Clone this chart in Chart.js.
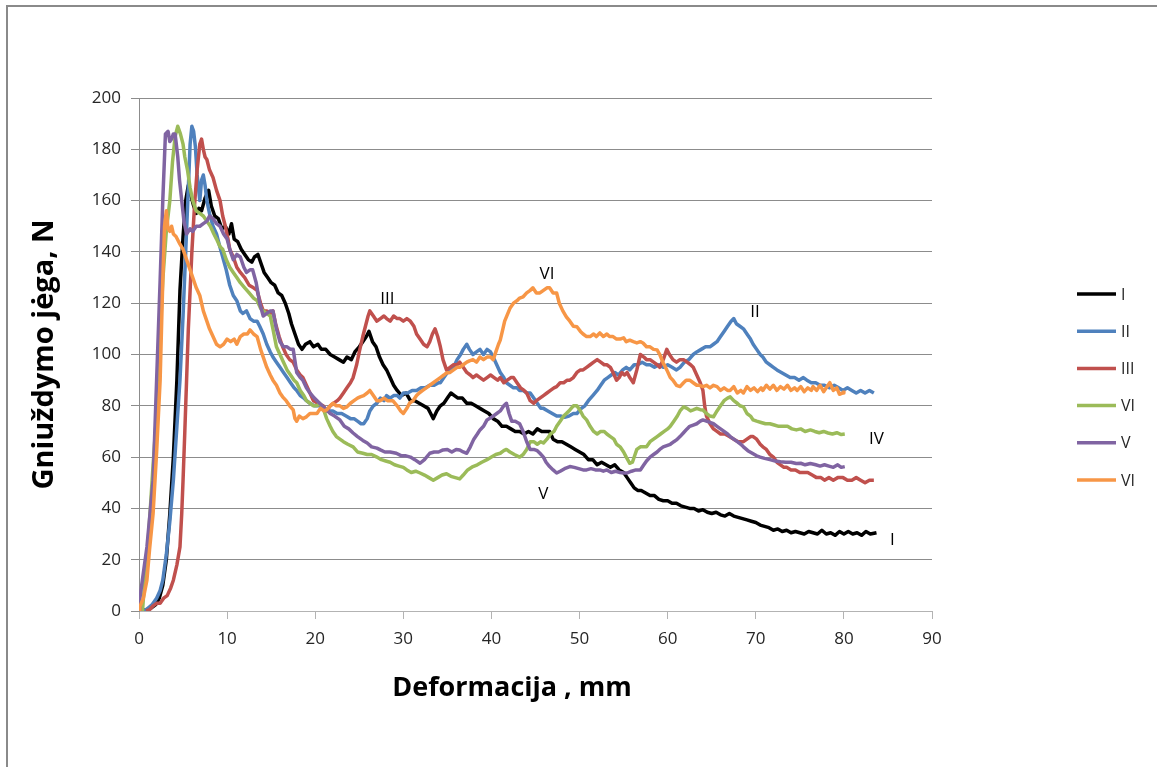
<!DOCTYPE html>
<html>
<head>
<meta charset="utf-8">
<title>Gniuždymo jėga</title>
<script src="https://cdn.jsdelivr.net/npm/chart.js@4.4.1/dist/chart.umd.min.js"></script>
<style>
  html, body { margin: 0; padding: 0; background: #fff; }
  #wrap { position: relative; width: 1157px; height: 767px; overflow: hidden; }
  #frame { position: absolute; left: 6px; top: 5px; width: 1200px; height: 800px;
           border-left: 2px solid #8a8a8a; border-top: 2px solid #8a8a8a; }
  canvas { position: absolute; left: 0; top: 0; }
</style>
</head>
<body>
<div id="wrap">
  <div id="frame"></div>
  <canvas id="chart" width="1157" height="767"></canvas>
</div>
<script>
// deformation (mm) / force (N) pairs
const seriesI = [
  [0.4,0],[0.9,0.6],[1.4,1.2],[1.9,2.5],[2.3,5],[2.7,10],[3.1,20],[3.5,38],[3.9,60],[4.3,90],[4.65,125],[5,146],[5.3,160],[5.6,166],[5.9,162],[6.2,158],[6.5,155],[6.8,157],[7.1,156],[7.5,161],[7.9,164],[8.2,158],[8.6,154],[9,153],[9.4,149],[9.8,150],[10.2,147],[10.5,151],[10.8,145],[11.2,144],[11.6,141],[12,139],[12.4,137],[12.8,136],[13.1,138],[13.5,139],[13.9,135],[14.2,132],[14.6,130],[15,128],[15.4,127],[15.8,124],[16.2,123],[16.6,120],[17,116],[17.3,112],[17.7,108],[18.1,104],[18.5,102],[18.9,104],[19.4,105],[19.8,103],[20.3,104],[20.7,102],[21.2,102],[21.7,100],[22.2,99],[22.7,98],[23.2,97],[23.6,99],[24.1,98],[24.5,101],[25,103],[25.4,105],[25.8,107],[26.1,109],[26.5,105],[26.9,103],[27.3,99],[27.7,96],[28.1,94],[28.5,91],[28.9,88],[29.3,86],[29.8,84],[30.3,85],[30.8,82],[31.3,82],[31.8,81],[32.3,80],[32.8,79],[33.1,77],[33.4,75],[33.8,78],[34.2,80],[34.6,81],[35,83],[35.4,85],[35.8,84],[36.2,83],[36.7,83],[37.2,81],[37.7,81],[38.2,80],[38.7,79],[39.2,78],[39.7,77],[40.2,75],[40.7,74],[41.2,72],[41.7,72],[42.2,71],[42.7,70],[43.2,70],[43.7,69],[44.2,70],[44.7,69],[45.2,71],[45.7,70],[46.2,70],[46.6,70],[47,67],[47.5,66],[48,66],[48.5,65],[49,64],[49.5,63],[50,62],[50.5,61],[51,59],[51.5,59],[52,57],[52.5,58],[53,57],[53.5,56],[54,57],[54.5,55],[55,54],[55.4,52],[55.8,50],[56.2,48],[56.6,47],[57,47],[57.5,46],[58,45],[58.5,45],[59,43.5],[59.5,43],[60,43],[60.5,42],[61,42],[61.5,41],[62,40.5],[62.5,40],[63,40],[63.5,39],[64,39.5],[64.5,38.5],[65,38],[65.5,38.5],[66,37.5],[66.5,37],[67,38],[67.5,37],[68,36.5],[68.5,36],[69,35.5],[69.5,35],[70,34.5],[70.5,33.5],[71,33],[71.5,32.5],[72,31.5],[72.5,32],[73,31],[73.5,31.5],[74,30.5],[74.5,31],[75,30.5],[75.5,30],[76,31],[76.5,30.5],[77,30],[77.5,31.5],[78,30],[78.5,30.5],[79,29.5],[79.5,31],[80,30],[80.5,31],[81,30],[81.5,30.5],[82,29.5],[82.5,31],[83,30],[83.7,30.5]
];
const seriesII = [
  [0.5,0],[1,1],[1.5,2.5],[2,5],[2.4,8],[2.7,12],[3.1,22],[3.5,35],[3.9,51],[4.3,72],[4.65,90],[5,115],[5.3,140],[5.6,165],[5.8,182],[6,189],[6.2,187],[6.4,181],[6.6,170],[6.9,160],[7.1,168],[7.3,170],[7.5,166],[7.7,160],[8,155],[8.4,150],[8.8,147],[9.1,143],[9.5,138],[9.9,133],[10.3,127],[10.7,123],[11.1,121],[11.5,117],[11.8,116],[12.2,117],[12.6,114],[13,113],[13.4,113],[13.7,111],[14.1,108],[14.5,104],[14.9,101],[15.2,99],[15.6,97],[16,95],[16.4,93],[16.8,91],[17.2,89],[17.6,87],[17.9,86],[18.3,84],[18.7,83],[19,82],[19.4,81],[19.9,80],[20.5,80],[21,79],[21.5,78],[22,78],[22.5,77],[23,77],[23.5,76],[24,75],[24.4,75],[24.8,74],[25.2,73],[25.5,73],[25.9,75],[26.2,78],[26.6,80],[27,81],[27.4,83],[27.8,82],[28.1,84],[28.5,83],[28.9,84],[29.3,84],[29.6,83],[30,85],[30.5,85],[31,86],[31.5,86],[32,87],[32.5,87],[33,88],[33.5,88],[34,89],[34.2,89],[34.6,91],[35,93],[35.4,94],[35.7,95],[36.1,98],[36.5,100],[36.8,102],[37.2,104],[37.5,102],[37.9,100],[38.3,101],[38.7,102],[39.1,100],[39.5,102],[39.9,101],[40.2,99],[40.6,96],[41,93],[41.4,91],[41.7,89],[42.1,88],[42.5,87],[42.9,87],[43.2,86],[43.6,86],[44,85],[44.4,85],[44.8,83],[45.2,81],[45.6,79],[45.9,79],[46.4,78],[46.9,77],[47.4,76],[47.9,76],[48.3,75.5],[48.8,76],[49.3,77],[49.7,77],[50.2,79],[50.6,80],[51,82],[51.5,84],[52,86],[52.4,88],[52.8,90],[53.2,91],[53.6,92],[54,93],[54.4,92],[54.9,94],[55.3,95],[55.7,94],[56.2,96],[56.6,96],[57.1,97],[57.6,96],[58,96],[58.5,95],[59,96],[59.5,95],[60,96],[60.5,95],[61,94],[61.4,95],[61.9,97],[62.4,98],[62.9,100],[63.3,101],[63.8,102],[64.3,103],[64.8,103],[65.2,104],[65.6,105],[66,107],[66.4,109],[66.8,111],[67.2,113],[67.5,114],[67.8,112],[68.2,111],[68.6,110],[69,108],[69.4,106],[69.7,104],[70.1,102],[70.5,100],[70.8,99],[71.2,97],[71.6,96],[72,95],[72.4,94],[72.9,93],[73.4,92],[73.9,91],[74.4,91],[74.9,90],[75.4,91],[75.8,90],[76.3,89],[76.8,89],[77.3,88],[77.8,88],[78.4,87],[78.9,88],[79.4,87],[79.9,86],[80.4,87],[80.9,86],[81.4,85],[81.9,86],[82.4,85],[82.9,86],[83.4,85]
];
const seriesIII = [
  [0.8,0],[1.2,0.5],[1.6,2],[2,3],[2.4,3],[2.8,5],[3.2,6],[3.6,9],[3.9,12],[4.3,18],[4.65,25],[4.85,38],[5,51],[5.2,70],[5.4,90],[5.6,110],[5.8,125],[6,140],[6.3,158],[6.6,172],[6.9,182],[7.1,184],[7.3,180],[7.5,177],[7.7,176],[8,172],[8.4,169],[8.8,164],[9.2,160],[9.5,154],[9.8,150],[10.1,145],[10.3,141],[10.7,138],[11.1,134],[11.5,132],[12,130],[12.5,127],[13,126],[13.4,125],[13.8,120],[14.1,117],[14.5,117],[14.9,116],[15.2,117],[15.5,112],[15.9,107],[16.3,103],[16.7,100],[17.1,98],[17.5,97],[17.9,94],[18.3,92],[18.6,91],[19,88],[19.4,85],[19.8,82],[20.3,81],[20.9,80],[21.3,78],[21.7,80],[22.1,81],[22.5,82],[22.8,83],[23.2,85],[23.6,87],[24,89],[24.3,91],[24.7,96],[25,101],[25.4,107],[25.7,111],[26,115],[26.2,117],[26.6,115],[27,113],[27.4,114],[27.8,115],[28.1,114],[28.5,113],[28.9,115],[29.3,114],[29.6,114],[30,113],[30.4,114],[30.8,113],[31.2,111],[31.5,108],[31.9,106],[32.3,104],[32.7,103],[33,105],[33.3,108],[33.6,110],[33.9,107],[34.2,103],[34.5,98],[34.9,94],[35.3,95],[35.7,96],[36.1,96],[36.4,97],[36.8,95],[37.2,93],[37.6,92],[37.9,91],[38.3,92],[38.7,91],[39.1,90],[39.5,91],[39.9,92],[40.3,91],[40.7,90],[41,91],[41.4,89],[41.8,90],[42.2,91],[42.5,91],[42.9,89],[43.3,87],[43.7,86],[44,85],[44.4,82],[44.8,81],[45.1,82],[45.5,83],[45.9,84],[46.3,85],[46.7,86],[47.1,87],[47.4,87.5],[47.8,89],[48.2,89],[48.6,90],[48.9,90],[49.3,91],[49.7,93],[50.1,94],[50.4,94],[50.8,95],[51.2,96],[51.6,97],[52,98],[52.4,97],[52.8,96],[53.1,96],[53.5,95],[53.8,93],[54.2,90],[54.5,91],[54.8,93],[55.1,92],[55.4,93],[55.7,91],[56.1,89],[56.5,94],[56.9,100],[57.3,99],[57.6,98],[58,98],[58.4,97],[58.8,96],[59.1,95],[59.5,98],[59.9,102],[60.2,100],[60.6,98],[61,97],[61.4,98],[61.8,98],[62.2,97],[62.6,96],[62.9,95],[63.3,92],[63.7,89],[64,86],[64.2,80],[64.4,76],[64.8,73],[65.2,71],[65.6,70],[66,69],[66.5,69],[67,68],[67.5,67],[68,66],[68.6,66],[69,67],[69.4,68],[69.7,68],[70.1,67],[70.5,65],[70.8,64],[71.2,63],[71.6,61],[72,60],[72.4,58],[72.8,57],[73.2,56],[73.5,56],[74,55],[74.5,55],[75,54],[75.4,54],[75.9,54],[76.4,53],[76.9,52],[77.4,52],[77.8,51],[78.3,52],[78.8,51],[79.3,52],[79.9,52],[80.4,51],[80.9,51],[81.4,52],[81.9,51],[82.4,50],[82.9,51],[83.4,51]
];
const seriesIV = [
  [0.4,0],[0.5,5],[0.9,20],[1.25,38],[1.6,57],[2,77],[2.3,100],[2.7,129],[3.1,148],[3.5,160],[3.8,175],[4.1,185],[4.4,189],[4.7,186],[5,182],[5.2,177],[5.5,172],[5.8,165],[6.1,160],[6.5,156],[6.9,155],[7.3,154],[7.7,152],[8.1,150],[8.5,147],[8.8,145],[9.2,142],[9.5,141],[9.9,137],[10.3,134],[10.7,132],[11.1,130],[11.5,128],[12,126],[12.5,124],[13,122],[13.4,121],[13.8,118],[14.1,117],[14.5,116],[14.9,115],[15.2,110],[15.6,103],[16,100],[16.4,97],[16.8,94],[17.2,92],[17.6,90],[17.9,89],[18.3,86],[18.7,84],[19,82],[19.4,81],[19.8,80],[20.2,80],[20.5,81],[20.9,79],[21.3,75],[21.7,72],[22,70],[22.4,68],[22.8,67],[23.2,66],[23.7,65],[24.3,64],[24.8,62],[25.4,61.5],[25.9,61],[26.4,61],[27,60],[27.5,59],[28,58.5],[28.5,58],[29,57],[29.5,56.5],[30,56],[30.4,55],[30.9,54],[31.4,54.5],[31.9,53.8],[32.4,53],[32.9,52],[33.4,51],[33.9,52],[34.4,53],[34.9,53.5],[35.4,52.5],[35.9,52],[36.4,51.5],[36.8,53],[37.3,55],[37.9,56.3],[38.4,57],[38.9,58],[39.5,59],[40,60],[40.5,61],[41,61.5],[41.4,62.5],[41.7,63],[42.1,62],[42.6,61],[43.2,60],[43.6,61],[44,63],[44.4,66],[44.8,66],[45.2,65],[45.6,66],[45.9,65.5],[46.3,67],[46.7,69],[47.1,70],[47.4,72],[47.8,74],[48.2,76],[48.5,77],[48.9,78.4],[49.3,80],[49.7,80],[50.1,78],[50.4,76],[50.8,74.5],[51.2,72],[51.6,70],[52,69],[52.4,70],[52.8,70],[53.1,69],[53.5,68],[53.9,67],[54.2,65],[54.6,64],[55,62],[55.3,60],[55.7,57.6],[56,58],[56.3,61],[56.5,63],[56.9,64],[57.2,64],[57.6,64],[58,66],[58.4,67],[58.8,68],[59.2,69],[59.6,70],[60,71],[60.3,72],[60.7,74],[61.1,76],[61.4,78],[61.8,79.6],[62.2,79],[62.6,78],[62.9,78.4],[63.3,79],[63.7,78.5],[64,78.4],[64.4,77],[64.8,76],[65.2,75.7],[65.6,78],[66,80],[66.4,82],[66.8,83],[67.1,83.5],[67.5,82],[67.9,81],[68.2,80],[68.6,79.6],[69,77],[69.4,76],[69.7,74.5],[70.1,74],[70.6,73.5],[71.1,73],[71.6,73],[72.1,72.5],[72.6,72],[73.1,72],[73.6,72],[74.1,71],[74.6,70.6],[75.1,71],[75.6,70],[76.2,70.6],[76.7,70],[77.2,69.5],[77.7,70],[78.2,69.4],[78.7,69],[79.2,69.5],[79.7,68.8],[80.1,69]
];
const seriesV = [
  [0.1,0],[0.1,5],[0.5,15],[0.9,25],[1.25,38],[1.6,51],[2,90],[2.4,129],[2.7,160],[3,186],[3.3,187],[3.5,183],[3.7,184],[3.9,186],[4.1,186],[4.4,177],[4.6,168],[4.85,160],[5.1,152],[5.4,147],[5.8,149],[6.1,148],[6.5,150],[6.9,150],[7.3,151],[7.7,152],[8,154],[8.4,153],[8.8,151],[9.2,150],[9.6,147],[10,145],[10.3,141],[10.7,137],[11.1,139],[11.5,138],[11.9,134],[12.2,132],[12.6,133],[12.9,133],[13.3,128],[13.7,120],[14.1,115],[14.5,116],[14.9,117],[15.2,117],[15.6,110],[16,105],[16.4,103],[16.8,103],[17.2,102],[17.5,102],[17.9,93],[18.3,91],[18.6,90],[19,87],[19.4,85],[19.9,83],[20.5,81],[21.1,79],[21.7,77],[22.2,76],[22.8,74.5],[23.3,72],[23.8,71],[24.3,69.4],[24.8,68],[25.4,66.5],[25.9,65.5],[26.4,64],[27,63.5],[27.4,62.8],[27.9,62],[28.5,62],[29.2,61.5],[29.8,60.5],[30.3,60.5],[30.8,60],[31.3,59],[31.9,57.6],[32.4,59],[33,61.5],[33.5,62],[34,62],[34.5,62.8],[35,63],[35.5,62],[36,63],[36.4,62.8],[36.8,62],[37.2,61.5],[37.6,64],[38,67],[38.4,69],[38.7,70.6],[39.1,72],[39.5,74.5],[40,75.5],[40.6,77],[41,78],[41.4,80],[41.7,81],[42,77],[42.3,74],[42.7,74],[43.2,73],[43.6,70],[44,66],[44.4,63],[44.8,63],[45.2,62.5],[45.5,61.5],[45.9,60],[46.2,58],[46.6,56.3],[47,55],[47.4,53.8],[47.8,54.5],[48.3,55.5],[48.9,56.3],[49.4,56],[49.9,55.5],[50.4,55],[50.8,55],[51.3,55.5],[51.8,55],[52.3,55],[52.7,54.5],[53.1,55],[53.6,54],[54.1,54.5],[54.6,54],[55,53.8],[55.4,53.8],[55.9,54.5],[56.4,55],[56.9,55],[57.3,57],[57.6,58.5],[58,60],[58.4,61],[58.8,62],[59.1,63],[59.5,64],[59.9,64.5],[60.3,65],[60.7,66],[61,66.7],[61.4,68],[61.8,69.5],[62.2,71],[62.5,72],[62.9,72.5],[63.3,73],[63.7,74],[64,74.5],[64.4,74],[64.8,73.5],[65.2,73],[65.6,72],[66,71],[66.4,70],[66.8,69],[67.1,68],[67.5,67],[67.9,66],[68.3,65],[68.6,64],[69.1,62.5],[69.6,61.5],[70.1,60.5],[70.5,60],[71,59.5],[71.6,59],[72.2,58.5],[72.8,58.2],[73.4,58],[74,58],[74.6,57.5],[75.1,57.6],[75.6,57],[76.2,57.5],[76.8,57],[77.3,56.5],[77.8,57],[78.3,56.5],[78.8,56],[79.3,57],[79.7,56],[80.1,56.3]
];
const seriesVI = [
  [0,0],[0.1,1.7],[0.5,5],[0.9,12],[1.2,24],[1.6,38],[2,62],[2.4,90],[2.7,129],[2.9,150],[3.1,156],[3.3,149],[3.5,148],[3.7,150],[3.9,147],[4.2,146],[4.65,143],[5,141],[5.4,137],[5.8,133],[6.1,130],[6.5,126],[6.9,123],[7.3,117],[7.7,113],[8,110],[8.4,107],[8.8,104],[9.2,103],[9.6,104],[10,106],[10.4,105],[10.8,106],[11.1,104],[11.5,107],[11.9,108],[12.3,108],[12.6,109.6],[13,108],[13.4,107],[13.8,102],[14.1,99],[14.5,95],[14.9,92],[15.2,90],[15.6,88],[16,85],[16.3,83.5],[16.7,82],[17.1,80],[17.5,78.4],[17.7,75],[17.9,74],[18.2,76],[18.6,75],[19,75.7],[19.4,77],[19.8,77],[20.2,77],[20.6,79],[21,78],[21.3,78.4],[21.7,80],[22,81],[22.4,80],[22.8,80],[23.2,79],[23.6,79.6],[24,81],[24.4,82],[24.8,83],[25.1,83.5],[25.5,84],[25.9,85],[26.2,86],[26.6,84],[27,82],[27.4,82],[27.8,83],[28.2,82],[28.8,82],[29.3,80],[29.7,78],[30,77],[30.4,79],[30.7,81],[31.1,82],[31.5,84],[31.8,85],[32.2,86],[32.6,87],[33,88],[33.4,89],[33.8,90],[34.2,91],[34.6,92],[34.9,92.8],[35.3,93],[35.7,94],[36.1,95],[36.4,95],[36.8,96],[37.2,97],[37.5,97.5],[37.9,98],[38.3,97],[38.7,99],[39.1,98],[39.5,99],[39.9,99],[40.2,98],[40.5,101],[40.8,104],[41,105.6],[41.3,110],[41.5,113],[41.7,114.7],[42.1,118],[42.5,120],[42.9,121],[43.2,122],[43.6,122.5],[44,124],[44.4,125],[44.7,126],[45.1,124],[45.5,124],[45.9,125],[46.3,126],[46.6,126],[47,124],[47.4,124],[47.7,120],[48.1,117],[48.5,114.7],[48.9,113],[49.3,111],[49.7,110.8],[50.1,109],[50.4,108],[50.8,107],[51.2,107],[51.6,108],[51.9,107],[52.3,108.4],[52.7,107],[53.1,108],[53.4,107],[53.8,107],[54.2,106],[54.6,106],[55,106.5],[55.3,105],[55.7,105.6],[56.1,105],[56.5,104.5],[56.9,105],[57.2,104.5],[57.6,103],[58,103],[58.4,102],[58.8,101.8],[59.1,100],[59.5,96.7],[59.9,94],[60.3,91],[60.6,90],[61,88],[61.4,87.5],[61.8,89],[62.1,90],[62.5,90],[62.9,89],[63.3,88],[63.6,88],[64,87.5],[64.4,88],[64.8,87],[65.2,88],[65.6,87.5],[66,86],[66.4,87],[66.8,86],[67.1,86],[67.5,87.5],[67.9,85],[68.3,86],[68.6,85],[69,87.5],[69.4,86],[69.8,87],[70.2,85.5],[70.6,87],[70.8,86],[71.2,88],[71.6,86.5],[72,88],[72.4,86],[72.8,87.5],[73.2,86.5],[73.6,88],[74,86],[74.4,87],[74.7,86],[75.1,87.5],[75.5,85.5],[75.9,87],[76.3,86],[76.5,87.5],[76.9,86],[77.3,88],[77.7,85.5],[78,87],[78.4,89],[78.8,86],[79.2,87],[79.5,84.5],[79.9,85],[80,86]
];

const seriesNames = ['I', 'II', 'III', 'VI', 'V', 'VI'];
const seriesColors = ['#000000', '#4f81bd', '#c0504d', '#9bbb59', '#8064a2', '#f79646'];
const allSeries = [seriesI, seriesII, seriesIII, seriesIV, seriesV, seriesVI];

// curve labels written inside the plot, at (mm, N)
const curveLabels = [
  ['III', 28.2, 121.5], ['VI', 46.3, 131.5], ['II', 69.9, 116.5],
  ['IV', 83.7, 67], ['V', 45.9, 45.5], ['I', 85.5, 27.5]
];

const xTitle = 'Deformacija , mm';
const yTitle = 'Gniuždymo jėga, N';

const FONT = '"Open Sans", "DejaVu Sans", sans-serif';

const labelsPlugin = {
  id: 'labels',
  afterDraw(chart) {
    const { ctx, scales } = chart;
    ctx.save();
    ctx.font = '17px ' + FONT;
    ctx.fillStyle = '#000';
    ctx.textAlign = 'center';
    ctx.textBaseline = 'middle';
    curveLabels.forEach(([t, x, y]) => {
      ctx.fillText(t, scales.x.getPixelForValue(x), scales.y.getPixelForValue(y));
    });

    // x axis title, sits a bit left of the plot centre like the original
    ctx.font = 'bold 27px ' + FONT;
    ctx.fillText(xTitle, 512, 688);

    // legend on the right
    const lx = chart.chartArea.right + 145;
    let ly = 294;
    ctx.textAlign = 'left';
    ctx.font = '16px ' + FONT;
    seriesNames.forEach((name, i) => {
      ctx.strokeStyle = seriesColors[i];
      ctx.lineWidth = 3.5;
      ctx.beginPath();
      ctx.moveTo(lx, ly);
      ctx.lineTo(lx + 39, ly);
      ctx.stroke();
      ctx.fillStyle = '#262626';
      ctx.fillText(name, lx + 44, ly + 1);
      ly += 37.2;
    });
    ctx.restore();
  }
};

new Chart(document.getElementById('chart'), {
  type: 'line',
  data: {
    datasets: allSeries.map((s, i) => ({
      label: seriesNames[i],
      data: s.map(([x, y]) => ({ x, y })),
      borderColor: seriesColors[i],
      borderWidth: 3.5,
      borderJoinStyle: 'round',
      pointRadius: 0,
      tension: 0,
      fill: false,
      order: allSeries.length - i
    }))
  },
  options: {
    responsive: false,
    animation: false,
    layout: { padding: { left: 0, top: 98, right: 225, bottom: 56 } },
    plugins: {
      legend: { display: false },
      tooltip: { enabled: false }
    },
    scales: {
      x: {
        type: 'linear',
        min: 0,
        max: 90,
        ticks: { stepSize: 10, color: '#262626', padding: 10, font: { family: FONT, size: 17 } },
        grid: { drawOnChartArea: false, drawTicks: true, tickLength: 8, color: '#b3b3b3' },
        border: { color: '#b3b3b3', width: 1 },
        title: { display: false },
        afterFit(scale) { scale.height = 100; }
      },
      y: {
        min: 0,
        max: 200,
        ticks: { stepSize: 20, color: '#262626', padding: 10, font: { family: FONT, size: 17 } },
        grid: { color: '#8c8c8c', lineWidth: 1, tickLength: 8, drawTicks: true },
        border: { color: '#8c8c8c', width: 1 },
        title: {
          display: true, text: yTitle, color: '#000',
          font: { family: FONT, size: 29, weight: 'bold' },
          padding: { top: 27, bottom: 0 }
        },
        afterFit(scale) { scale.width = 139; }
      }
    }
  },
  plugins: [labelsPlugin]
});
</script>
</body>
</html>
